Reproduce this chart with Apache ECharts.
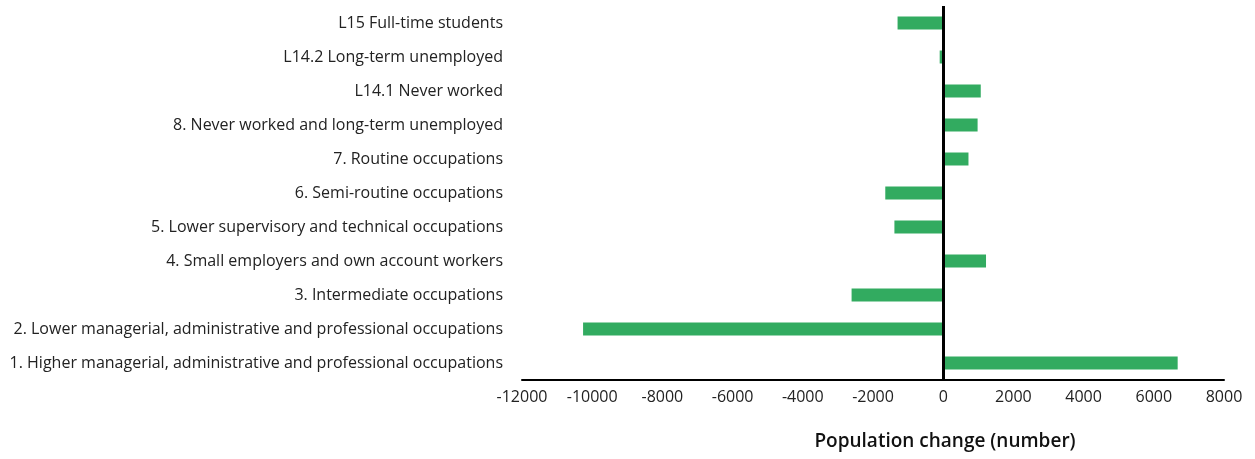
<!DOCTYPE html>
<html>
<head>
<meta charset="utf-8">
<script src="https://cdn.jsdelivr.net/npm/echarts@6/dist/echarts.min.js"></script>
<style>
  html, body { margin: 0; padding: 0; background: #fff; }
  #chart { width: 1255px; height: 459px; }
</style>
</head>
<body>
<div id="chart"></div>
<script>
// bottom to top
const categories = [
  '1. Higher managerial, administrative and professional occupations',
  '2. Lower managerial, administrative and professional occupations',
  '3. Intermediate occupations',
  '4. Small employers and own account workers',
  '5. Lower supervisory and technical occupations',
  '6. Semi-routine occupations',
  '7. Routine occupations',
  '8. Never worked and long-term unemployed',
  'L14.1 Never worked',
  'L14.2 Long-term unemployed',
  'L15 Full-time students'
];
const changes = [6680, -10260, -2610, 1220, -1390, -1650, 720, 980, 1070, -100, -1300];

const chart = echarts.init(document.getElementById('chart'));
const font = '"Open Sans", sans-serif';

chart.setOption({
  animation: false,
  backgroundColor: '#fff',
  grid: { left: 522, right: 31, top: 6, bottom: 79 },
  xAxis: {
    type: 'value',
    min: -12000,
    max: 8000,
    interval: 2000,
    name: 'Population change (number)',
    nameLocation: 'middle',
    nameGap: 52,
    nameTextStyle: { color: '#111', fontSize: 19, fontWeight: 600, fontFamily: font, padding: [0, 0, 0, 144] },
    axisLine: { show: true, lineStyle: { color: '#000', width: 2 } },
    axisTick: { show: false },
    splitLine: { show: false },
    axisLabel: { color: '#222', fontSize: 16, margin: 9, fontFamily: font, formatter: v => String(v) }
  },
  yAxis: {
    type: 'category',
    data: categories,
    axisLine: { show: false, onZero: false },
    axisTick: { show: false },
    axisLabel: { color: '#222', fontSize: 16, margin: 19, fontFamily: font, padding: [0, 0, 3, 0] }
  },
  series: [{
    type: 'bar',
    data: changes,
    barWidth: 13,
    itemStyle: { color: '#32ab60' },
    markLine: {
      silent: true,
      symbol: 'none',
      label: { show: false },
      lineStyle: { color: '#000', width: 3, type: 'solid' },
      data: [{ xAxis: 0 }]
    }
  }]
});
</script>
</body>
</html>
